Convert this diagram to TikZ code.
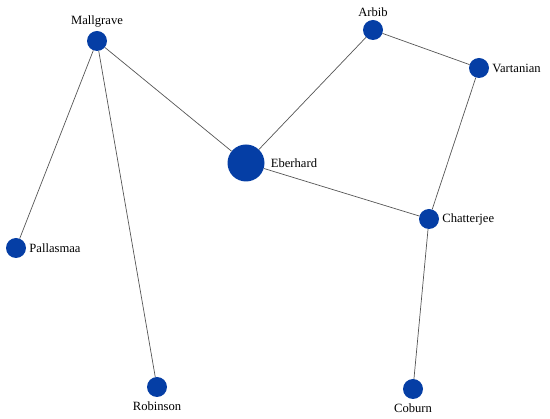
\documentclass[tikz,border=0pt]{standalone}
\usepackage{fontspec}
\setmainfont{Liberation Serif}
\definecolor{dotblue}{RGB}{5,62,165}
\definecolor{edgegray}{RGB}{85,85,85}
\tikzset{
  author/.style={circle, fill=dotblue, minimum size=20pt, inner sep=0pt},
  lead/.style={author, minimum size=37pt},
  tie/.style={edgegray, line width=0.7pt},
  every label/.style={font=\fontsize{12.6}{14}\selectfont, inner sep=1pt},
  label distance=2pt
}
\begin{document}
\begin{tikzpicture}[x=1pt, y=-1pt]
        \useasboundingbox (0,0) rectangle (550,419);
        % authors
        \node[author, label=above:Mallgrave] (mallgrave) at (97,41) {};
        \node[author, label=above:Arbib] (arbib) at (373,30) {};
        \node[author, label=right:Vartanian] (vartanian) at (479,68) {};
        \node[lead, label={[label distance=5pt]right:Eberhard}] (eberhard) at (246,163) {};
        \node[author, label=right:Chatterjee] (chatterjee) at (429,219) {};
        \node[author, label=right:Pallasmaa] (pallasmaa) at (16,248) {};
        \node[author, label={[label distance=3pt]below:Robinson}] (robinson) at (157,387) {};
        \node[author, label={[label distance=3pt]below:Coburn}] (coburn) at (413,389) {};
        % ties
        \foreach \a/\b in {mallgrave/pallasmaa, mallgrave/robinson, mallgrave/eberhard,
                           eberhard/arbib, eberhard/chatterjee, arbib/vartanian,
                           vartanian/chatterjee, chatterjee/coburn} {
            \draw[tie] (\a) -- (\b);
        }
    \end{tikzpicture}
\end{document}
